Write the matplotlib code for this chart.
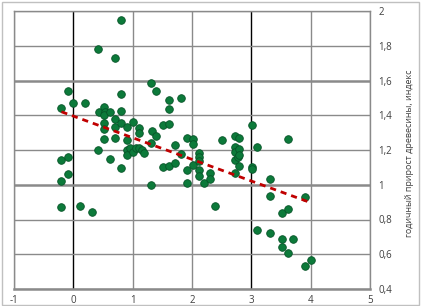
import matplotlib.pyplot as plt
from matplotlib.patches import Rectangle
from matplotlib.ticker import FuncFormatter

# data (x, annual wood growth index)
x_vals = [-0.2, -0.2, -0.2, -0.2,
          -0.09, -0.09, -0.09,
          0.0, 0.11, 0.2, 0.32,
          0.42, 0.43, 0.42,
          0.51, 0.54, 0.51, 0.51, 0.51, 0.51,
          0.61, 0.62,
          0.71, 0.71, 0.71, 0.71,
          0.81, 0.81, 0.81, 0.81, 0.81,
          0.91, 0.91, 0.91, 0.91,
          1.01, 0.95, 1.0, 1.05, 1.1, 1.15, 1.19,
          1.1, 1.1,
          1.31, 1.33, 1.31, 1.31,
          1.4, 1.4,
          1.51, 1.51,
          1.61, 1.61, 1.61, 1.61,
          1.71, 1.71,
          1.81, 1.81,
          1.92, 1.92, 1.92,
          2.01, 2.01, 2.01,
          2.11, 2.11, 2.11, 2.11, 2.11,
          2.21, 2.31, 2.31, 2.38,
          2.51,
          2.72, 2.72, 2.72, 2.72, 2.72,
          2.77,
          2.8, 2.8, 2.8, 2.8,
          3.01, 3.01, 3.01,
          3.1, 3.1,
          3.31, 3.31, 3.31,
          3.52, 3.52, 3.52,
          3.61, 3.61, 3.61,
          3.71,
          3.91, 3.91,
          4.01]
y_vals = [1.44, 1.142, 1.02, 0.872,
          1.54, 1.159, 1.06,
          1.473, 0.878, 1.473, 0.845,
          1.78, 1.418, 1.2,
          1.446, 1.42, 1.40, 1.355, 1.318, 1.265,
          1.15, 1.418,
          1.73, 1.378, 1.33, 1.267,
          1.95, 1.525, 1.427, 1.358, 1.094,
          1.33, 1.258, 1.2, 1.174,
          1.364, 1.21, 1.19, 1.21, 1.21, 1.2, 1.18,
          1.326, 1.3,
          1.585, 1.31, 1.24, 1.0,
          1.54, 1.28,
          1.345, 1.1,
          1.487, 1.437, 1.352, 1.107,
          1.227, 1.128,
          1.5, 1.176,
          1.268, 1.085, 1.012,
          1.265, 1.235, 1.116,
          1.18, 1.16, 1.134, 1.086, 1.049,
          1.01, 1.065, 1.035, 0.878,
          1.255,
          1.28, 1.22, 1.19, 1.145, 1.065,
          1.16,
          1.27, 1.205, 1.17, 1.107,
          1.345, 1.1, 1.088,
          1.22, 0.74,
          1.032, 0.934, 0.724,
          0.84, 0.69, 0.644,
          1.265, 0.858, 0.61,
          0.686,
          0.93, 0.533,
          0.565]

# linear trend line, endpoints
trend_x = [-0.2, 4.0]
trend_y = [1.42, 0.897]

x_ticks = [-1, 0, 1, 2, 3, 4, 5]
y_ticks = [0.4, 0.6, 0.8, 1.0, 1.2, 1.4, 1.6, 1.8, 2.0]

plt.rcParams['font.family'] = ['Open Sans', 'DejaVu Sans']

fig = plt.figure(figsize=(4.28, 3.06), dpi=100)
ax = fig.add_axes([14/428, 1 - 289/306, (370 - 14)/428, (289 - 11)/306])

ax.set_xlim(-1, 5)
ax.set_ylim(0.4, 2.0)
ax.set_xticks(x_ticks)
ax.set_yticks(y_ticks)

# gridlines like the Excel chart
for xv in x_ticks:
    col = 'black' if xv in (0, 3) else '#8a8a8a'
    ax.axvline(xv, color=col, linewidth=1.0, zorder=1)
for yv in y_ticks:
    lw = 1.8 if yv in (1.0, 1.6) else 1.0
    ax.axhline(yv, color='#8a8a8a', linewidth=lw, zorder=1)

for side in ['top', 'left', 'right']:
    ax.spines[side].set_color('#8a8a8a')
    ax.spines[side].set_linewidth(1.0)
ax.spines['bottom'].set_color('#8a8a8a')
ax.spines['bottom'].set_linewidth(1.8)

ax.scatter(x_vals, y_vals, s=30, color='#0c7a3a', edgecolors='#075428',
           linewidths=0.6, zorder=3)
ax.plot(trend_x, trend_y, color='#c00000', linewidth=2.0,
        linestyle=(0, (2.2, 1.8)), zorder=4)

fmt = FuncFormatter(lambda v, p: ('%g' % round(v, 1)).replace('.', ','))
ax.xaxis.set_major_formatter(fmt)
ax.yaxis.set_major_formatter(fmt)
ax.yaxis.tick_right()
ax.tick_params(axis='both', length=0, labelsize=7, colors='#404040', pad=6)
ax.tick_params(axis='x', pad=4)

fig.text(410/428, 0.5, 'годичный прирост древесины, индекс', rotation=90,
         ha='center', va='center', fontsize=6.5, color='#404040')

fig.patches.append(Rectangle((2/428, 1/306), 417/428, 303/306, transform=fig.transFigure,
                             fill=False, edgecolor='#c0c0c0', linewidth=1.0))

fig.savefig('out.png', dpi=100)
